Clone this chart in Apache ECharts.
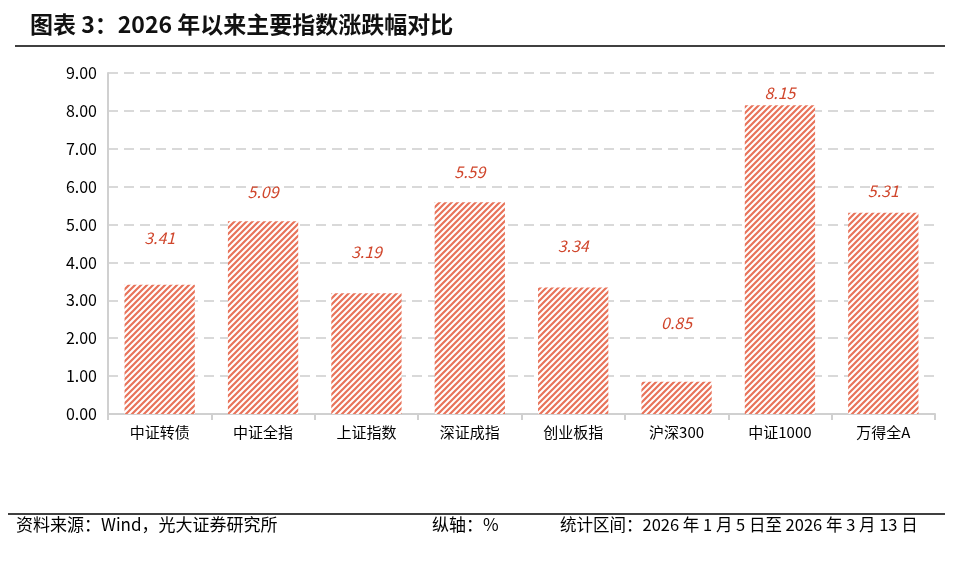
<!DOCTYPE html>
<html><head><meta charset="utf-8">
<script src="https://cdn.jsdelivr.net/npm/echarts@6/dist/echarts.min.js"></script>
<style>html,body{margin:0;padding:0;background:#fff;}#c{width:960px;height:574px;}</style>
</head><body><div id="c"></div>
<script>
const categories = ['中证转债','中证全指','上证指数','深证成指','创业板指','沪深300','中证1000','万得全A'];
const values = [3.41, 5.09, 3.19, 5.59, 3.34, 0.85, 8.15, 5.31];
const yTicks = [0, 1, 2, 3, 4, 5, 6, 7, 8, 9];
const labelDistances = [39, 21, 33, 22, 34, 51, 4, 14];

function stripe() {
  const c = document.createElement('canvas');
  c.width = 6; c.height = 6;
  const g = c.getContext('2d');
  g.fillStyle = '#ffffff'; g.fillRect(0,0,6,6);
  g.strokeStyle = '#e8735a'; g.lineWidth = 2.2;
  g.beginPath();
  g.moveTo(-3, 3); g.lineTo(3, -3);
  g.moveTo(0, 6); g.lineTo(6, 0);
  g.moveTo(3, 9); g.lineTo(9, 3);
  g.stroke();
  return c;
}
const pat = { image: stripe(), repeat: 'repeat' };
const FONT = '"Noto Sans CJK SC", "Noto Sans", sans-serif';

const chart = echarts.init(document.getElementById('c'));
chart.setOption({
  backgroundColor: '#fff',
  animation: false,
  textStyle: { fontFamily: FONT },
  grid: { left: 108, right: 25, top: 73, bottom: 160 },
  xAxis: {
    type: 'category', data: categories,
    axisLine: { lineStyle: { color: '#d0d0d0', width: 2 } },
    axisTick: { show: true, alignWithLabel: false, length: 6, lineStyle: { color: '#d0d0d0', width: 2 } },
    axisLabel: { color: '#000', fontSize: 15, margin: 11, fontFamily: FONT }
  },
  yAxis: {
    type: 'value', min: yTicks[0], max: yTicks[yTicks.length - 1], interval: 1,
    axisLine: { show: true, lineStyle: { color: '#d0d0d0', width: 2 } },
    axisTick: { show: false },
    axisLabel: { color: '#000', fontSize: 16, margin: 11, formatter: v => v.toFixed(2), fontFamily: FONT },
    splitLine: { lineStyle: { color: '#d9d9d9', width: 2, type: [10, 6] } }
  },
  series: [{
    type: 'bar', barWidth: '68%',
    data: values.map((v, i) => ({ value: v, label: { distance: labelDistances[i] } })),
    itemStyle: { color: pat },
    label: { show: true, position: 'top', color: '#d0462c', fontStyle: 'italic', fontSize: 16, formatter: p => p.value.toFixed(2), fontFamily: FONT }
  }],
  graphic: [
    { type: 'text', left: 30, top: 13, style: { text: '图表 3：2026 年以来主要指数涨跌幅对比', font: 'bold 23px ' + FONT, fill: '#111' } },
    { type: 'line', shape: { x1: 15, y1: 46, x2: 945, y2: 46 }, style: { stroke: '#000', lineWidth: 1.5 } },
    { type: 'line', shape: { x1: 8, y1: 514, x2: 945, y2: 514 }, style: { stroke: '#000', lineWidth: 1.5 } },
    { type: 'text', left: 16, top: 516, style: { text: '资料来源：Wind，光大证券研究所', font: '17px ' + FONT, fill: '#000' } },
    { type: 'text', left: 432, top: 516, style: { text: '纵轴：%', font: '17px ' + FONT, fill: '#000' } },
    { type: 'text', left: 560, top: 516, style: { text: '统计区间：2026 年 1 月 5 日至 2026 年 3 月 13 日', font: '16.5px ' + FONT, fill: '#000' } }
  ]
});
</script></body></html>
